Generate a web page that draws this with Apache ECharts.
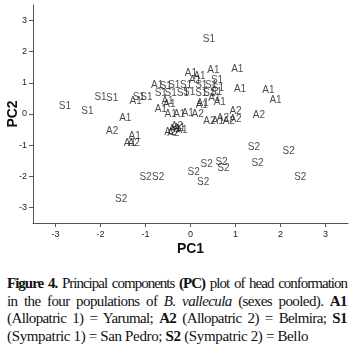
<!DOCTYPE html>
<html>
<head>
<meta charset="utf-8">
<script src="https://cdn.jsdelivr.net/npm/echarts@6/dist/echarts.min.js"></script>
<style>
  html, body { margin: 0; padding: 0; background: #fff; }
  #chart { position: absolute; left: 0; top: 0; width: 354px; height: 262px; }
  #caption {
    position: absolute; left: 7px; top: 275px; width: 340px;
    font-family: 'Liberation Serif', 'Times New Roman', serif;
    font-size: 15px; line-height: 17.5px; letter-spacing: -0.6px;
    color: #111;
  }
  #caption div { white-space: nowrap; text-align: justify; text-align-last: justify; }
  #caption div.first { letter-spacing: -1px; word-spacing: -1px; }
  #caption div.last { text-align-last: left; letter-spacing: -0.35px; }
</style>
</head>
<body>
<div id="chart"></div>
<div id="caption">
  <div class="first"><b>Figure 4.</b> Principal components <b>(PC)</b> plot of head conformation</div>
  <div>in the four populations of <i>B. vallecula</i> (sexes pooled). <b>A1</b></div>
  <div>(Allopatric 1) = Yarumal; <b>A2</b> (Allopatric 2) = Belmira; <b>S1</b></div>
  <div class="last">(Sympatric 1) = San Pedro; <b>S2</b> (Sympatric 2) = Bello</div>
</div>
<script>
// PC1, PC2 scores per population
const groupNames = ['A1', 'A2', 'S1', 'S2']

const a1Points = [
  [0.51, 1.42], [1.04, 1.45], [0.01, 1.31], [0.2, 1.2], [0.1, 1.08],
  [1.1, 0.78], [1.73, 0.75], [1.89, 0.44], [-0.74, 0.91], [0.53, 0.52],
  [-1.22, 0.41], [-0.51, 0.41], [-0.47, 0.31], [-0.66, 0.15], [0.27, 0.36],
  [0.25, 0.28], [0.65, 0.38], [-1.45, -0.15], [-0.44, -0.01], [-0.25, -0.01],
  [-0.06, 0.04], [0.61, -0.22], [-1.24, -0.73], [-1.35, -0.93], [-0.35, -0.5],
  [-0.25, -0.45], [-0.2, -0.52]
]

const a2Points = [
  [0.16, 0.0], [0.42, -0.22], [0.72, -0.15], [0.85, -0.22], [1.0, 0.1],
  [1.0, -0.17], [1.52, -0.04], [-1.74, -0.55], [-1.26, -0.93], [-0.45, -0.57],
  [-0.3, -0.4], [-0.38, -0.62]
]

const s1Points = [
  [0.41, 2.39], [0.59, 1.08], [0.61, 0.84], [-2.79, 0.25], [-2.29, 0.1],
  [-2.0, 0.55], [-1.74, 0.5], [-1.15, 0.55], [-0.98, 0.55], [-0.66, 0.68],
  [-0.44, 0.68], [-0.17, 0.68], [-0.03, 0.7], [0.24, 0.68], [0.42, 0.66],
  [0.57, 0.7], [-0.36, 0.91], [-0.1, 0.91], [0.24, 0.91], [0.46, 0.91],
  [-0.55, 0.88]
]

const s2Points = [
  [1.41, -1.07], [2.18, -1.2], [0.36, -1.62], [0.69, -1.56], [0.73, -1.75],
  [1.49, -1.58], [0.07, -1.86], [0.28, -2.18], [2.44, -2.04], [-1.0, -2.04],
  [-0.72, -2.04], [-1.54, -2.73]
]

const tickValues = [-3, -2, -1, 0, 1, 2, 3]

const chart = echarts.init(document.getElementById('chart'))

const axisCommon = {
  type: 'value',
  min: -3.5,
  max: 3.5,
  nameMoveOverlap: false,
  nameTextStyle: { fontFamily: 'Liberation Sans, Arial', fontWeight: 'bold', fontSize: 14, color: '#111' },
  axisLine: { show: true, onZero: false, lineStyle: { color: '#555', width: 1 } },
  axisTick: { show: true, length: 4, customValues: tickValues, lineStyle: { color: '#555' } },
  axisLabel: { customValues: tickValues, fontFamily: 'Liberation Sans, Arial', fontSize: 9, color: '#222' },
  splitLine: { show: false }
}

const seriesData = [a1Points, a2Points, s1Points, s2Points].map((pts, i) => ({
  name: groupNames[i],
  type: 'scatter',
  symbol: 'circle',
  symbolSize: 1,
  itemStyle: { color: 'rgba(0,0,0,0)' },
  data: pts,
  label: {
    show: true,
    position: 'inside',
    formatter: groupNames[i],
    fontFamily: 'Liberation Sans, Arial',
    fontSize: 10,
    color: '#1a1a1a'
  },
  emphasis: { disabled: true }
}))

chart.setOption({
  animation: false,
  grid: { left: 33, right: 6, top: 5, bottom: 39, containLabel: false, outerBoundsMode: 'none' },
  xAxis: Object.assign({}, axisCommon, {
    name: 'PC1',
    nameLocation: 'middle',
    nameGap: 19,
    axisLabel: Object.assign({}, axisCommon.axisLabel, { margin: 7 })
  }),
  yAxis: Object.assign({}, axisCommon, {
    name: 'PC2',
    nameLocation: 'middle',
    nameRotate: 90,
    nameGap: 13,
    axisLabel: Object.assign({}, axisCommon.axisLabel, { margin: 6 })
  }),
  series: seriesData
})
</script>
</body>
</html>
